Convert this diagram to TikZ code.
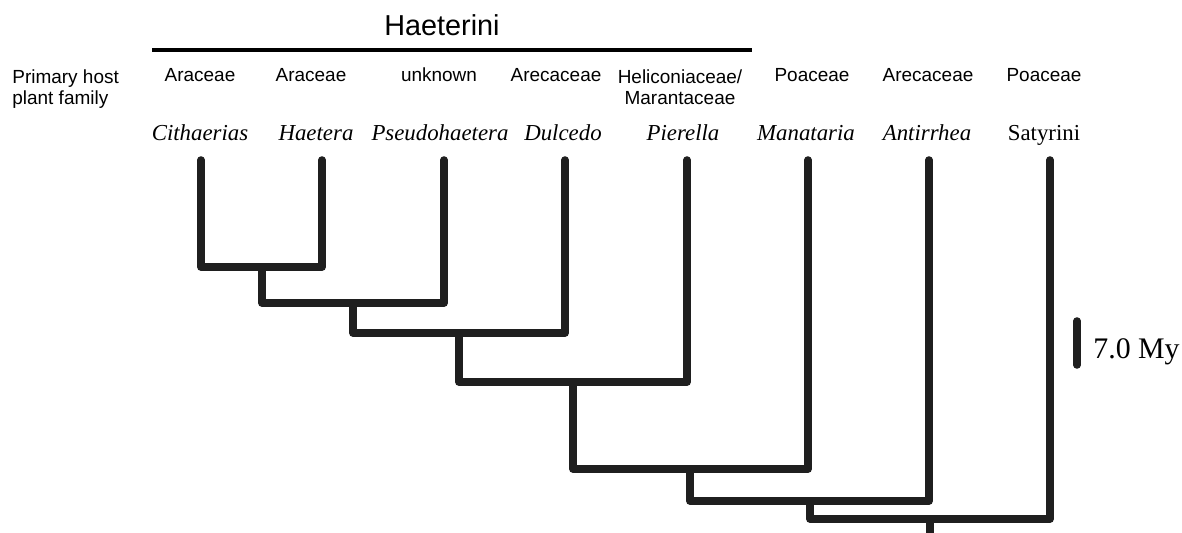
\documentclass[tikz,border=0pt]{standalone}
\usepackage{fontspec}
\setmainfont{Liberation Serif}
\setsansfont{Liberation Sans}
\usetikzlibrary{positioning}

\begin{document}
\begin{tikzpicture}[x=0.02cm, y=-0.02cm,
    branch/.style={line width=4.3pt, line join=round, line cap=round, black!88},
    host/.style={font=\sffamily\fontsize{10.8}{12.3}\selectfont, align=center, anchor=base, inner sep=0pt},
    genus/.style={font=\itshape\fontsize{13}{15}\selectfont, anchor=base, inner sep=0pt}]
  \useasboundingbox (0,0) rectangle (1182,533);

  % --- clade bar ---
  \node[font=\sffamily\fontsize{16.4}{18}\selectfont, anchor=base, inner sep=0pt] (haet) at (442,36) {Haeterini};
  \draw[line width=2.8pt] (152,50) -- (752,50);

  % --- host plant row (two-line labels sit on their last line) ---
  \node[host, align=left, anchor=base west] (phpf) at (12,105) {Primary host\\plant family};
  \node[host] (hCit) at (200,82) {Araceae};
  \node[host] (hHae) at (311,82) {Araceae};
  \node[host] (hPse) at (439,82) {unknown};
  \node[host] (hDul) at (556,82) {Arecaceae};
  \node[host] (hPie) at (680,105) {Heliconiaceae/\\Marantaceae};
  \node[host] (hMan) at (812,82) {Poaceae};
  \node[host] (hAnt) at (928,82) {Arecaceae};
  \node[host] (hSat) at (1044,82) {Poaceae};

  % --- genus row ---
  \node[genus] (gCit) at (200,141) {Cithaerias};
  \node[genus] (gHae) at (316,141) {Haetera};
  \node[genus] (gPse) at (440,141) {Pseudohaetera};
  \node[genus] (gDul) at (563,141) {Dulcedo};
  \node[genus] (gPie) at (683,141) {Pierella};
  \node[genus] (gMan) at (806,141) {Manataria};
  \node[genus] (gAnt) at (927,141) {Antirrhea};
  \node[genus, font=\fontsize{13}{15}\selectfont] (gSat) at (1044,141) {Satyrini};

  % tips
  \coordinate (tCit) at (201,160);
  \coordinate (tHae) at (322,160);
  \coordinate (tPse) at (444,160);
  \coordinate (tDul) at (565,160);
  \coordinate (tPie) at (687,160);
  \coordinate (tMan) at (808,160);
  \coordinate (tAnt) at (929,160);
  \coordinate (tSat) at (1050,160);

  % internal nodes
  \coordinate (n1) at (262,267);
  \coordinate (n2) at (353,303);
  \coordinate (n3) at (459,333);
  \coordinate (n4) at (573,382);
  \coordinate (n5) at (690,469);
  \coordinate (n6) at (810,501);
  \coordinate (n7) at (930,519);
  \coordinate (root) at (930,540);

  % --- tree ---
  \draw[branch] (tCit) |- (n1) -| (tHae);
  \draw[branch] (n1) |- (n2) -| (tPse);
  \draw[branch] (n2) |- (n3) -| (tDul);
  \draw[branch] (n3) |- (n4) -| (tPie);
  \draw[branch] (n4) |- (n5) -| (tMan);
  \draw[branch] (n5) |- (n6) -| (tAnt);
  \draw[branch] (n6) |- (n7) -| (tSat);
  \draw[branch, line cap=butt] (n7) -- (root);

  % --- scale bar ---
  \coordinate (sTop) at (1077,321);
  \coordinate (sBot) at (1077,365);
  \draw[branch] (sTop) -- (sBot);
  \node[font=\fontsize{17}{19}\selectfont, anchor=base west, inner sep=0pt] (scale) at (1093,358) {7.0 My};
\end{tikzpicture}
\end{document}
